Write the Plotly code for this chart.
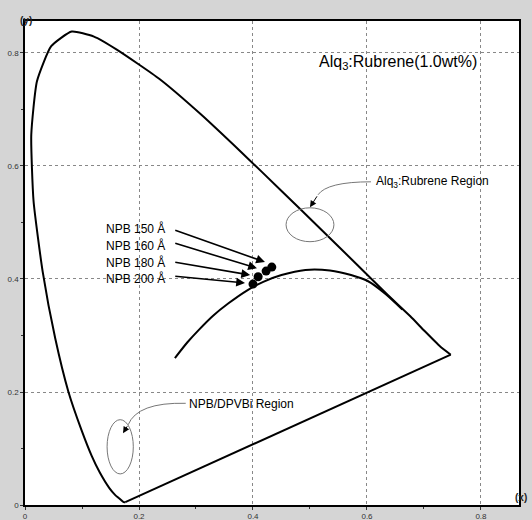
import plotly.graph_objects as go

# Spectral locus (close to CIE 1931)
locus_x = [0.176, 0.173, 0.166, 0.158, 0.148, 0.131, 0.117, 0.099, 0.076, 0.053, 0.031,
           0.015, 0.011, 0.021, 0.046, 0.082, 0.121, 0.161, 0.236, 0.308, 0.380, 0.451,
           0.520, 0.584, 0.636, 0.676, 0.701, 0.728, 0.747]
locus_y = [0.005, 0.005, 0.011, 0.018, 0.030, 0.058, 0.087, 0.133, 0.201, 0.295, 0.413,
           0.538, 0.655, 0.750, 0.812, 0.838, 0.829, 0.806, 0.754, 0.692, 0.624, 0.555,
           0.487, 0.424, 0.372, 0.334, 0.308, 0.281, 0.266]
# Purple line closing the diagram
purple_x = [0.747, 0.176]
purple_y = [0.266, 0.005]

# Planckian (black body) curve
pl_x = [0.263, 0.285, 0.305, 0.330, 0.357, 0.390, 0.418, 0.450, 0.492, 0.535, 0.572, 0.602, 0.632, 0.662]
pl_y = [0.260, 0.288, 0.310, 0.335, 0.357, 0.380, 0.395, 0.407, 0.416, 0.415, 0.407, 0.396, 0.374, 0.346]

# Device CIE coordinates
labels = ["NPB 150 Å", "NPB 160 Å", "NPB 180 Å", "NPB 200 Å"]
cie_x = [0.433, 0.423, 0.409, 0.400]
cie_y = [0.421, 0.414, 0.404, 0.391]

tick_vals = [0, 0.2, 0.4, 0.6, 0.8]
tick_text = ["0", "0.2", "0.4", "0.6", "0.8"]

fig = go.Figure()
fig.add_trace(go.Scatter(x=locus_x, y=locus_y, mode="lines",
                         line=dict(color="black", width=2, shape="spline", smoothing=0.5),
                         hoverinfo="skip"))
fig.add_trace(go.Scatter(x=purple_x, y=purple_y, mode="lines",
                         line=dict(color="black", width=2), hoverinfo="skip"))
fig.add_trace(go.Scatter(x=pl_x, y=pl_y, mode="lines",
                         line=dict(color="black", width=2, shape="spline", smoothing=0.8),
                         hoverinfo="skip"))
fig.add_trace(go.Scatter(x=cie_x, y=cie_y, mode="markers",
                         marker=dict(color="black", size=9), text=labels))

# Label positions and arrow tails
lab_x = 0.249
lab_y = [0.490, 0.460, 0.430, 0.400]
tail_x = 0.261
tail_y = [0.487, 0.464, 0.430, 0.405]
head_x = [0.421, 0.407, 0.395, 0.386]
head_y = [0.430, 0.419, 0.407, 0.393]

ann = []
for t, ly, ty, hx, hy in zip(labels, lab_y, tail_y, head_x, head_y):
    ann.append(dict(x=lab_x, y=ly, text=t, showarrow=False, xanchor="right",
                    font=dict(size=12, color="black", family="Liberation Sans")))
    ann.append(dict(x=hx, y=hy, ax=tail_x, ay=ty, axref="x", ayref="y", xref="x", yref="y",
                    text="", showarrow=True, arrowhead=2, arrowsize=1.1, arrowwidth=1.6,
                    arrowcolor="black"))

ann += [
    dict(x=0.654, y=0.784, text="Alq<sub>3</sub>:Rubrene(1.0wt%)", showarrow=False,
         font=dict(size=16, color="black", family="Liberation Sans")),
    dict(x=0.612, y=0.572, text="Alq<sub>3</sub>:Rubrene Region", showarrow=False, xanchor="left",
         font=dict(size=12, color="black", family="Liberation Sans")),
    dict(x=0.284, y=0.178, text="NPB/DPVBi Region", showarrow=False, xanchor="left",
         font=dict(size=12, color="black", family="Liberation Sans")),
    dict(x=0.500, y=0.527, ax=0.514, ay=0.549, axref="x", ayref="y", xref="x", yref="y",
         text="", showarrow=True, arrowhead=2, arrowsize=1.3, arrowwidth=1, arrowcolor="black"),
    dict(x=0.172, y=0.127, ax=0.181, ay=0.142, axref="x", ayref="y", xref="x", yref="y",
         text="", showarrow=True, arrowhead=2, arrowsize=1.3, arrowwidth=1, arrowcolor="black"),
    dict(x=-0.015, y=1.017, xref="paper", yref="paper", text="<b>(y)</b>", showarrow=False,
         font=dict(size=10, color="#222", family="Liberation Sans")),
    dict(x=1.02, y=0.0, xref="paper", yref="paper", text="<b>(x)</b>", showarrow=False,
         font=dict(size=10, color="#222", family="Liberation Sans")),
]

shapes = [
    dict(type="circle", xref="x", yref="y", x0=0.458, x1=0.542, y0=0.466, y1=0.526,
         line=dict(color="#777", width=1)),
    dict(type="circle", xref="x", yref="y", x0=0.144, x1=0.190, y0=0.055, y1=0.151,
         line=dict(color="#777", width=1)),
    dict(type="path", xref="x", yref="y", path="M 0.607,0.572 Q 0.530,0.572 0.514,0.549",
         line=dict(color="#777", width=1)),
    dict(type="path", xref="x", yref="y", path="M 0.282,0.180 Q 0.197,0.182 0.181,0.142",
         line=dict(color="#777", width=1)),
]

axis_common = dict(
    tickvals=tick_vals, ticktext=tick_text, showline=True, linecolor="black", linewidth=1.5,
    mirror=True, ticks="outside", ticklen=3, tickcolor="#333", showgrid=True,
    gridcolor="#888", griddash="dot", gridwidth=1, zeroline=False, automargin=False,
    tickfont=dict(size=8, color="#333", family="Liberation Sans"),
    minor=dict(ticks="outside", dtick=0.1, ticklen=2, tickcolor="#333", showgrid=False),
)

fig.update_layout(
    width=532, height=520,
    margin=dict(l=25, r=13, t=21, b=15),
    paper_bgcolor="#d5d5d5", plot_bgcolor="white",
    showlegend=False,
    xaxis=dict(range=[0, 0.8667], **axis_common),
    yaxis=dict(range=[0, 0.8566], **axis_common),
    annotations=ann, shapes=shapes,
)

fig.write_html("out.html", config={"displayModeBar": False})

# remove the browser's default page margin so the figure fills the window
with open("out.html", "r", encoding="utf-8") as f:
    html = f.read()
html = html.replace("<body>", '<body style="margin:0;padding:0;overflow:hidden">', 1)
with open("out.html", "w", encoding="utf-8") as f:
    f.write(html)
